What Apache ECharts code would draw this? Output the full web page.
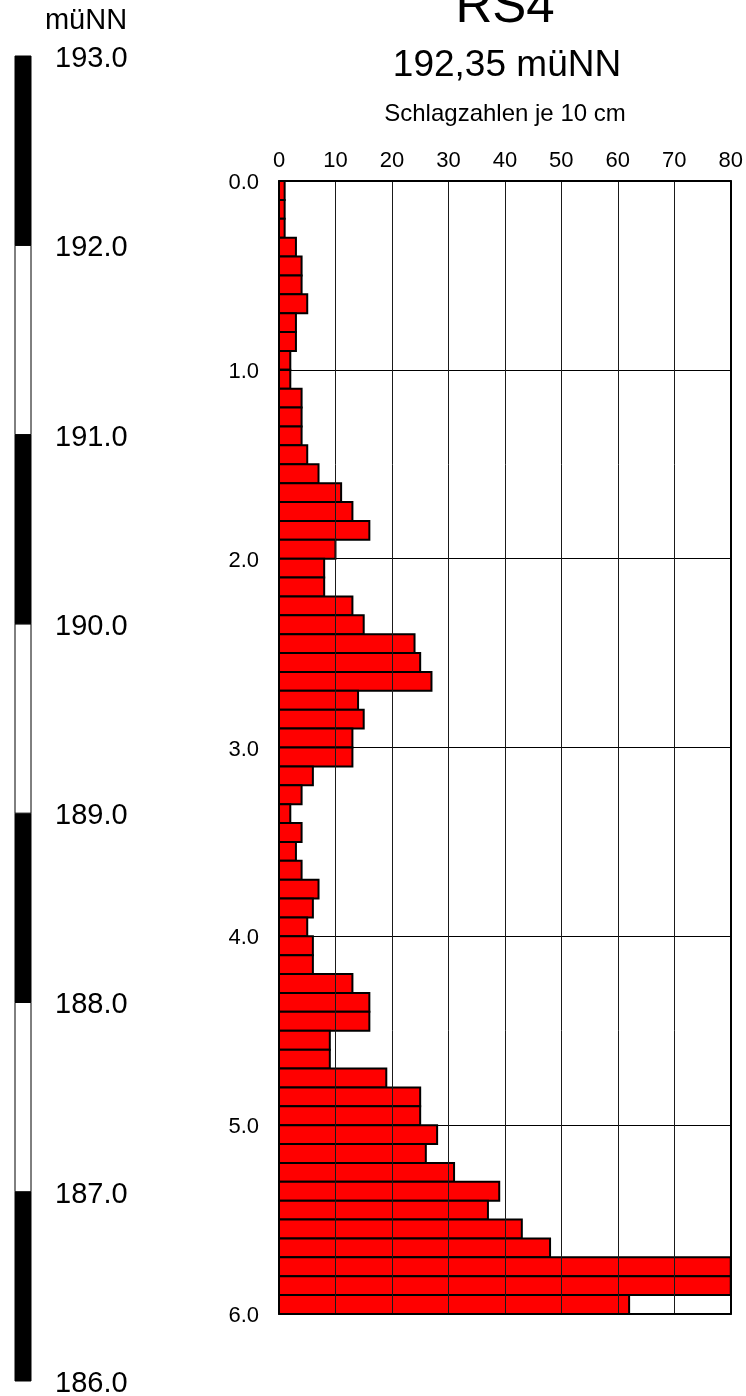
<!DOCTYPE html>
<html>
<head>
<meta charset="utf-8">
<script src="https://cdn.jsdelivr.net/npm/echarts@6/dist/echarts.min.js"></script>
<style>
  html, body { margin: 0; padding: 0; background: #fff; }
  #chart { width: 746px; height: 1396px; }
</style>
</head>
<body>
<div id="chart"></div>
<script>
// Ramming sounding RS4: blow counts per 10 cm of penetration
const boreName = 'RS4';
const groundLevel = '192,35 müNN';
const valueTitle = 'Schlagzahlen je 10 cm';
const stepDepth = 0.1; // m per counted interval

// Blow counts from 0.0 m to 6.0 m, one per 10 cm
const blowCounts = [
  1, 1, 1, 3, 4, 4, 5, 3, 3, 2,
  2, 4, 4, 4, 5, 7, 11, 13, 16, 10,
  8, 8, 13, 15, 24, 25, 27, 14, 15, 13,
  13, 6, 4, 2, 4, 3, 4, 7, 6, 5,
  6, 6, 13, 16, 16, 9, 9, 19, 25, 25,
  28, 26, 31, 39, 37, 43, 48, 80, 80, 62
];

// Value axis (top) and depth axis (left)
const countTicks = [0, 80, 10];   // min, max, interval
const depthTicks = [0, 6, 1];
const depthLabels = [0, 1, 2, 3, 4, 5, 6];

// Elevation ruler segments (lower bound of each 1 m band)
const elevBands = [186, 187, 188, 189, 190, 191, 192];
const elevTicks = [186, 193, 1];
const elevLabels = [186, 187, 188, 189, 190, 191, 192, 193];
const elevUnit = 'müNN';

const FONT = 'Liberation Sans, Arial, sans-serif';

const chart = echarts.init(document.getElementById('chart'), null, { renderer: 'canvas' });

const depthData = blowCounts.map((v, i) => [i * stepDepth, v]);

// Text labels placed through the axis scale, nudged to sit on the tick line
function tickText(dx, dy, fontSize, align) {
  return (params, api) => {
    const v = api.value(0);
    const p = api.coord([0, v]);
    return {
      type: 'text',
      x: p[0] + dx, y: p[1] + dy,
      style: {
        text: v.toFixed(1), font: fontSize + 'px ' + FONT, fill: '#000',
        align: align, verticalAlign: 'middle'
      }
    };
  };
}

chart.setOption({
  animation: false,
  backgroundColor: '#ffffff',
  textStyle: { fontFamily: FONT },
  grid: [
    { left: 279, right: 13, top: 181, bottom: 82 },
    { left: 15, width: 16, top: 56, bottom: 15 }
  ],
  xAxis: [
    {
      gridIndex: 0, type: 'value', position: 'top', z: 5,
      min: countTicks[0], max: countTicks[1], interval: countTicks[2],
      axisLine: { show: true, lineStyle: { color: '#000', width: 2 } },
      axisTick: { show: false },
      axisLabel: { color: '#000', fontSize: 22, fontFamily: FONT, margin: 9 },
      splitLine: { show: true, lineStyle: { color: '#1a1a1a', width: 1 } }
    },
    {
      gridIndex: 0, type: 'value', position: 'bottom', z: 5,
      min: countTicks[0], max: countTicks[1],
      axisLine: { show: true, onZero: false, lineStyle: { color: '#000', width: 2 } },
      axisTick: { show: false }, axisLabel: { show: false }, splitLine: { show: false }
    },
    {
      gridIndex: 1, type: 'value', min: 0, max: 1, show: false
    }
  ],
  yAxis: [
    {
      gridIndex: 0, type: 'value', inverse: true, z: 5,
      min: depthTicks[0], max: depthTicks[1], interval: depthTicks[2],
      axisLine: { show: true, onZero: false, lineStyle: { color: '#000', width: 2 } },
      axisTick: { show: false },
      axisLabel: { show: false },
      splitLine: { show: true, lineStyle: { color: '#000', width: 1 } }
    },
    {
      gridIndex: 0, type: 'value', inverse: true, position: 'right', z: 5,
      min: depthTicks[0], max: depthTicks[1],
      axisLine: { show: true, onZero: false, lineStyle: { color: '#000', width: 2 } },
      axisTick: { show: false }, axisLabel: { show: false }, splitLine: { show: false }
    },
    {
      gridIndex: 1, type: 'value', position: 'right',
      min: elevTicks[0], max: elevTicks[1], interval: elevTicks[2],
      axisLine: { show: false }, axisTick: { show: false }, splitLine: { show: false },
      axisLabel: { show: false }
    }
  ],
  series: [
    {
      type: 'custom',
      name: valueTitle,
      xAxisIndex: 0, yAxisIndex: 0, z: 2,
      clip: true,
      data: depthData,
      renderItem: (params, api) => {
        const top = api.value(0);
        const val = api.value(1);
        const p0 = api.coord([0, top]);
        const p1 = api.coord([val, top + stepDepth]);
        return {
          type: 'rect',
          shape: { x: p0[0], y: p0[1], width: p1[0] - p0[0], height: p1[1] - p0[1] },
          style: { fill: '#ff0000', stroke: '#000', lineWidth: 2 }
        };
      }
    },
    {
      type: 'custom',
      name: 'depth labels',
      xAxisIndex: 0, yAxisIndex: 0, z: 3,
      clip: false, silent: true,
      data: depthLabels.map(d => [d]),
      renderItem: tickText(-20, 2, 22, 'right')
    },
    {
      type: 'custom',
      name: elevUnit,
      xAxisIndex: 2, yAxisIndex: 2, z: 2,
      data: elevBands.map(lo => [lo]),
      renderItem: (params, api) => {
        const lo = api.value(0);
        const p0 = api.coord([0, lo + 1]);
        const p1 = api.coord([1, lo]);
        const dark = lo % 2 === 0;
        return {
          type: 'rect',
          shape: { x: p0[0], y: p0[1], width: p1[0] - p0[0], height: p1[1] - p0[1] },
          style: { fill: dark ? '#000' : '#fff', stroke: '#000', lineWidth: 1 }
        };
      }
    },
    {
      type: 'custom',
      name: 'elevation labels',
      xAxisIndex: 2, yAxisIndex: 2, z: 3,
      clip: false, silent: true,
      data: elevLabels.map(e => [e]),
      renderItem: tickText(40, 3, 29, 'left')
    }
  ],
  graphic: [
    {
      type: 'text', x: 505, y: 8,
      style: { text: boreName, font: '51px ' + FONT, fill: '#000', align: 'center', verticalAlign: 'middle' }
    },
    {
      type: 'text', x: 507, y: 66,
      style: { text: groundLevel, font: '37px ' + FONT, fill: '#000', align: 'center', verticalAlign: 'middle' }
    },
    {
      type: 'text', x: 505, y: 114,
      style: { text: valueTitle, font: '24px ' + FONT, fill: '#000', align: 'center', verticalAlign: 'middle' }
    },
    {
      type: 'text', x: 86, y: 21,
      style: { text: elevUnit, font: '29px ' + FONT, fill: '#000', align: 'center', verticalAlign: 'middle' }
    }
  ]
});
</script>
</body>
</html>
